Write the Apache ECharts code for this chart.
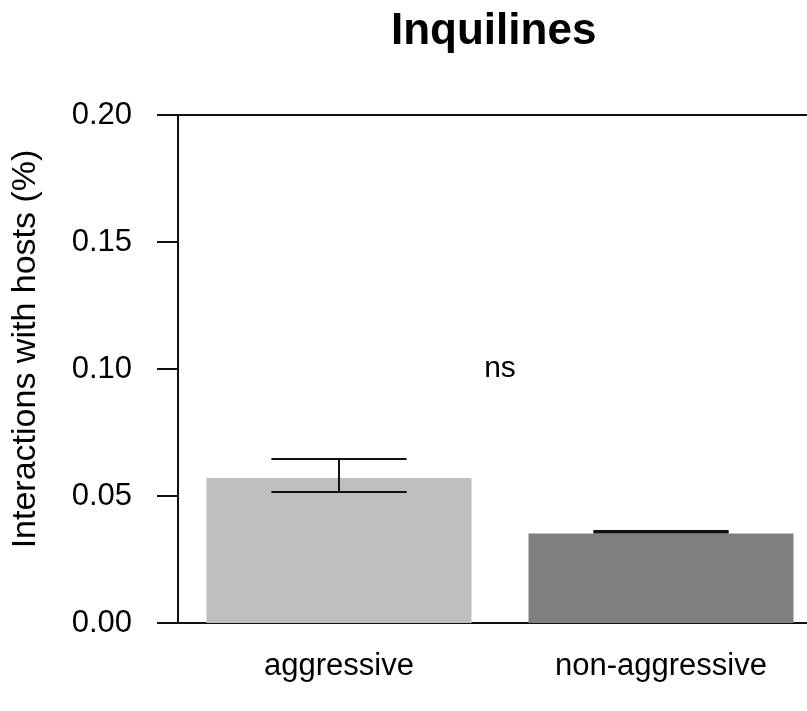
<!DOCTYPE html>
<html>
<head>
<meta charset="utf-8">
<script src="https://cdn.jsdelivr.net/npm/echarts@6/dist/echarts.min.js"></script>
<style>
  html, body { margin: 0; padding: 0; background: #fff; overflow: hidden; }
  /* plot box runs past the right edge of the window, as in the source figure */
  #chart { width: 822px; height: 711px; }
</style>
</head>
<body>
<div id="chart"></div>
<script>
const categories = ["aggressive", "non-aggressive"];
const means = [0.0571, 0.0352];
const errLow = [0.0516, 0.0356];
const errHigh = [0.0646, 0.0362];
const barColors = ["#bebebe", "#7f7f7f"];
const yTicks = { min: 0, max: 0.2, step: 0.05 };
const annotation = { label: "ns", x: 2, y: 0.1 };

const font = "Liberation Sans, Arial, sans-serif";

const chart = echarts.init(document.getElementById("chart"));

chart.setOption({
  backgroundColor: "#fff",
  animation: false,
  title: {
    text: "Inquilines",
    left: 386,
    top: 5,
    textStyle: { fontFamily: font, fontSize: 44, fontWeight: "bold", color: "#000" }
  },
  grid: {
    left: 178,
    top: 115,
    right: 0,
    bottom: 88,
    show: true,
    borderColor: "#111",
    borderWidth: 2,
    containLabel: false
  },
  xAxis: [
    {
      type: "category",
      data: categories,
      axisLine: { show: true, lineStyle: { color: "#111", width: 2 } },
      axisTick: { show: false },
      axisLabel: { fontFamily: font, fontSize: 31, color: "#000", margin: 28 }
    },
    {
      type: "value",
      min: 0,
      max: 4,
      show: false
    }
  ],
  yAxis: {
    type: "value",
    min: yTicks.min,
    max: yTicks.max,
    interval: yTicks.step,
    name: "Interactions with hosts (%)",
    nameLocation: "middle",
    nameGap: 135,
    nameTextStyle: { fontFamily: font, fontSize: 34, color: "#000", padding: [0, 0, 0, 40] },
    axisLine: { show: true, lineStyle: { color: "#111", width: 2 } },
    axisTick: { show: true, length: 21, lineStyle: { color: "#111", width: 2 } },
    splitLine: { show: false },
    axisLabel: {
      fontFamily: font,
      fontSize: 31,
      color: "#000",
      margin: 46,
      formatter: (v) => v.toFixed(2)
    }
  },
  series: [
    {
      type: "bar",
      barWidth: 265,
      data: means.map((v, i) => ({ value: v, itemStyle: { color: barColors[i] } })),
      z: 2
    },
    {
      type: "custom",
      z: 3,
      data: categories.map((c, i) => [i, errLow[i], errHigh[i]]),
      renderItem: (params, api) => {
        const idx = api.value(0);
        const lo = api.coord([idx, api.value(1)]);
        const hi = api.coord([idx, api.value(2)]);
        const half = api.size([1, 0])[0] * 0.21;
        const style = { stroke: "#111", lineWidth: 2 };
        return {
          type: "group",
          children: [
            { type: "line", shape: { x1: lo[0], y1: lo[1], x2: hi[0], y2: hi[1] }, style },
            { type: "line", shape: { x1: lo[0] - half, y1: lo[1], x2: lo[0] + half, y2: lo[1] }, style },
            { type: "line", shape: { x1: hi[0] - half, y1: hi[1], x2: hi[0] + half, y2: hi[1] }, style }
          ]
        };
      }
    },
    {
      type: "scatter",
      xAxisIndex: 1,
      symbolSize: 0,
      itemStyle: { opacity: 1 },
      data: [[annotation.x, annotation.y]],
      label: {
        show: true,
        position: "inside",
        formatter: annotation.label,
        fontFamily: font,
        fontSize: 30,
        color: "#000"
      }
    }
  ]
});
</script>
</body>
</html>
